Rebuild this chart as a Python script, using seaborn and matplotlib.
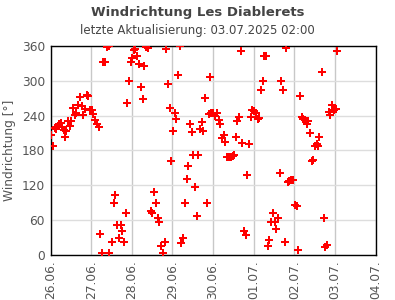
import numpy as np
import pandas as pd
import matplotlib
matplotlib.use("Agg")
import matplotlib.pyplot as plt
import matplotlib.dates as mdates
import seaborn as sns

title = "Windrichtung Les Diablerets"
subtitle = "letzte Aktualisierung: 03.07.2025 02:00"
ylabel = "Windrichtung [°]"
start = "2025-06-26"
end = "2025-07-04"

# hours after 26.06.2025 00:00
hours = [0.2, 1.5, 2.5, 3.0, 3.5, 4.3, 4.9, 5.9, 6.7, 7.7, 8.8, 9.4, 10.2, 11.6, 12.2,
         13.3, 14.5, 15.3, 16.1, 17.5, 18.7, 19.3, 20.4, 21.6, 22.4, 23.4, 24.6, 25.0,
         26.3, 27.3, 28.5, 29.3, 30.5, 31.1, 31.9, 33.4, 34.6, 34.8, 36.4, 37.6, 38.1,
         39.3, 40.5, 41.7, 42.3, 43.3, 44.5, 45.2, 46.4, 47.6, 48.2, 49.4, 50.0, 51.1,
         52.3, 53.5, 54.5, 55.3, 56.5, 57.4, 59.4, 60.2, 61.2, 62.2, 63.3, 64.1, 65.3,
         66.5, 67.7, 68.2, 69.4, 70.6, 71.2, 72.4, 73.6, 74.1, 75.3, 76.5, 77.1, 78.3,
         79.5, 80.6, 81.2, 82.4, 83.6, 84.2, 85.4, 86.6, 87.1, 88.3, 89.5, 90.1, 91.3,
         92.5, 93.6, 94.2, 94.7, 95.9, 97.0, 98.2, 99.5, 100.1, 101.3, 102.3, 103.1,
         104.3, 105.5, 106.6, 107.8, 108.6, 109.6, 110.2, 111.3, 112.5, 113.1, 114.3,
         115.3, 116.1, 117.3, 118.4, 119.2, 120.4, 121.6, 122.5, 123.3, 124.3, 125.5,
         126.3, 127.5, 128.4, 129.0, 130.2, 131.4, 132.6, 133.2, 134.4, 135.5, 136.1,
         137.3, 138.5, 139.1, 140.2, 141.0, 142.0, 143.2, 144.4, 145.3, 146.2, 147.4,
         148.6, 149.2, 150.0, 151.0, 151.6, 151.8, 153.3, 154.4, 155.0, 156.2, 157.3,
         157.9, 158.6, 160.3, 161.5, 162.1, 163.2, 164.4, 165.0, 166.3, 167.4, 168.6,
         169.2]
direction = [206, 187, 219, 217, 220, 222, 225, 227, 220, 216, 203, 214, 230, 222, 230,
             253, 241, 245, 258, 272, 257, 241, 251, 275, 274, 249, 249, 243,
             233, 225, 221, 36, 4, 332, 333, 358, 4, 359, 22, 89, 103,
             51, 30, 51, 41, 22, 72, 261, 299, 332, 339, 353, 355, 342,
             328, 289, 268, 325, 358, 357, 75, 73, 108, 89, 63, 56, 15,
             4, 22, 354, 294, 253, 161, 213, 244, 234, 310, 359, 20, 29,
             89, 130, 153, 225, 211, 172, 117, 67, 172, 217, 229, 213, 270,
             89, 242, 306, 245, 245, 239, 244, 233, 225, 201, 206, 194,
             168, 168, 169, 171, 172, 203, 231, 237, 351, 193, 41,
             34, 137, 191, 237, 249, 248, 245, 234, 236, 284, 299,
             343, 343, 15, 25, 56, 72, 56, 44, 63, 142, 299,
             284, 22, 356, 125, 128, 129, 129, 86, 84, 8, 273,
             237, 235, 232, 230, 225, 231, 210, 162, 164, 187, 191,
             187, 204, 315, 64, 14, 18, 246, 241, 258, 249, 251,
             351]

df = pd.DataFrame({
    "time": pd.Timestamp(start) + pd.to_timedelta(hours, unit="h"),
    "dir": direction,
})

sns.set_style("white")
plt.rcParams["font.family"] = ["DejaVu Sans"]

fig = plt.figure(figsize=(3.95, 3.0), dpi=100)
ax = fig.add_axes([0.128, 0.150, 0.823, 0.697])

ax.set_axisbelow(True)
sns.scatterplot(data=df, x="time", y="dir", ax=ax, marker="P", color="#ff0000",
                s=26, linewidth=0, zorder=3, clip_on=True)

ax.set_xlim(pd.Timestamp(start), pd.Timestamp(end))
ax.set_ylim(0, 360)
ax.set_yticks(np.arange(0, 361, 60))
ax.yaxis.set_minor_locator(matplotlib.ticker.MultipleLocator(10))
ax.xaxis.set_major_locator(mdates.DayLocator())
ax.xaxis.set_major_formatter(mdates.DateFormatter("%d.%m."))
ax.xaxis.set_minor_locator(mdates.HourLocator(byhour=[6, 12, 18]))

ax.grid(axis="x", which="major", color="#c8c8c8", linewidth=1)
ax.grid(axis="y", which="major", color="#dddddd", linewidth=1)

ax.tick_params(axis="both", which="major", direction="in", length=4, width=1,
               color="#999999", labelcolor="#555555", labelsize=8.8, pad=4)
ax.tick_params(axis="both", which="minor", direction="in", length=3, width=1,
               color="#999999")
ax.tick_params(axis="x", which="major", labelrotation=90)
for lab in ax.get_xticklabels():
    lab.set_verticalalignment("top")

for sp in ax.spines.values():
    sp.set_color("black")
    sp.set_linewidth(1)

ax.set_xlabel("")
ax.set_ylabel(ylabel, color="#555555", fontsize=8.8, labelpad=4)

fig.text(0.5, 0.957, title, ha="center", va="center", fontsize=9.5,
         fontweight="bold", color="#444444")
fig.text(0.5, 0.897, subtitle, ha="center", va="center", fontsize=8.5,
         color="#444444")

fig.savefig("out.png", dpi=100)
